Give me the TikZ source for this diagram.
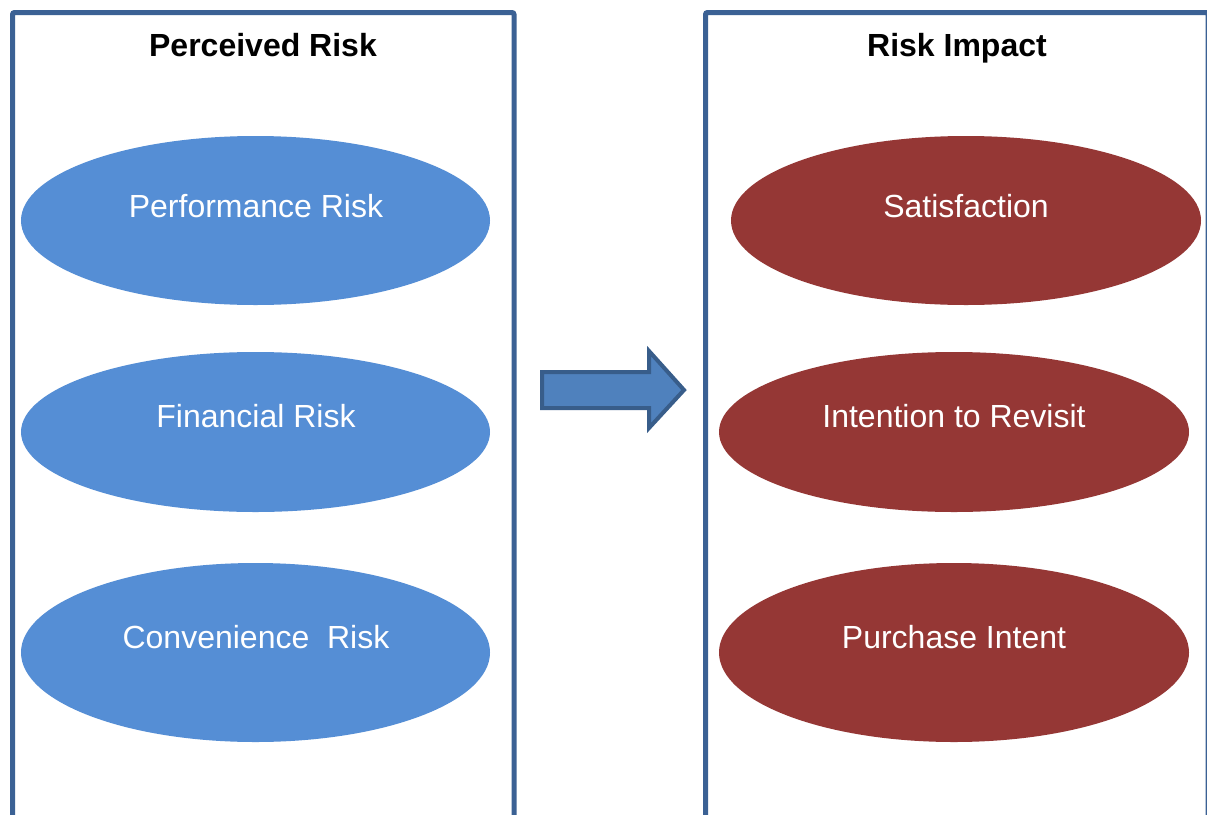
\documentclass[tikz,border=0pt]{standalone}
\usepackage{fontspec}
\setmainfont{Liberation Sans}
\usetikzlibrary{shapes.geometric}
\definecolor{boxblue}{HTML}{3B6194}
\definecolor{ellblue}{HTML}{558ED5}
\definecolor{ellred}{HTML}{953735}
\definecolor{arrfill}{HTML}{4F81BD}
\definecolor{arrdraw}{HTML}{385D8A}
\tikzset{
  panel/.style={draw=boxblue, line width=5pt, rounded corners=2pt},
  blueell/.style={ellipse, fill=ellblue, inner sep=0pt},
  redell/.style={ellipse, fill=ellred, inner sep=0pt},
  elltext/.style={anchor=base, text=white, font=\fontsize{32}{38}\selectfont, inner sep=0pt},
  title/.style={anchor=base, font=\fontsize{32}{38}\selectfont\bfseries, inner sep=0pt},
  bigarrow/.style={fill=arrfill, draw=arrdraw, line width=4pt, line join=miter}
}
\begin{document}
\begin{tikzpicture}[x=1pt,y=-1pt]
\useasboundingbox (0,0) rectangle (1207,814);
\fill[white] (0,0) rectangle (1207,814);
% panels
\draw[panel] (12.5,830) -- (12.5,12.5) -- (514,12.5) -- (514,830);
\draw[panel] (705.5,830) -- (705.5,12.5) -- (1208,12.5) -- (1208,830);
% titles
\node[title] (t1) at (263,56) {Perceived Risk};
\node[title] (t2) at (957,56) {Risk Impact};
% left ellipses
\node[blueell, minimum width=469pt, minimum height=169pt] (e1) at (255.5,220.5) {};
\node[blueell, minimum width=469pt, minimum height=160pt] (e2) at (255.5,432) {};
\node[blueell, minimum width=469pt, minimum height=179pt] (e3) at (255.5,652.5) {};
\node[elltext] (l1) at (256,217) {Performance Risk};
\node[elltext] (l2) at (256,427) {Financial Risk};
\node[elltext] (l3) at (256,648) {Convenience\ \ Risk};
% right ellipses
\node[redell, minimum width=470pt, minimum height=169pt] (r1) at (966,220.5) {};
\node[redell, minimum width=470pt, minimum height=160pt] (r2) at (954,432) {};
\node[redell, minimum width=470pt, minimum height=179pt] (r3) at (954,652.5) {};
\node[elltext] (m1) at (966,217) {Satisfaction};
\node[elltext] (m2) at (954,427) {Intention to Revisit};
\node[elltext] (m3) at (954,648) {Purchase Intent};
% block arrow
\draw[bigarrow] (542,372) -- (649,372) -- (649,351) -- (684,390) -- (649,428) -- (649,408) -- (542,408) -- cycle;
\end{tikzpicture}
\end{document}
